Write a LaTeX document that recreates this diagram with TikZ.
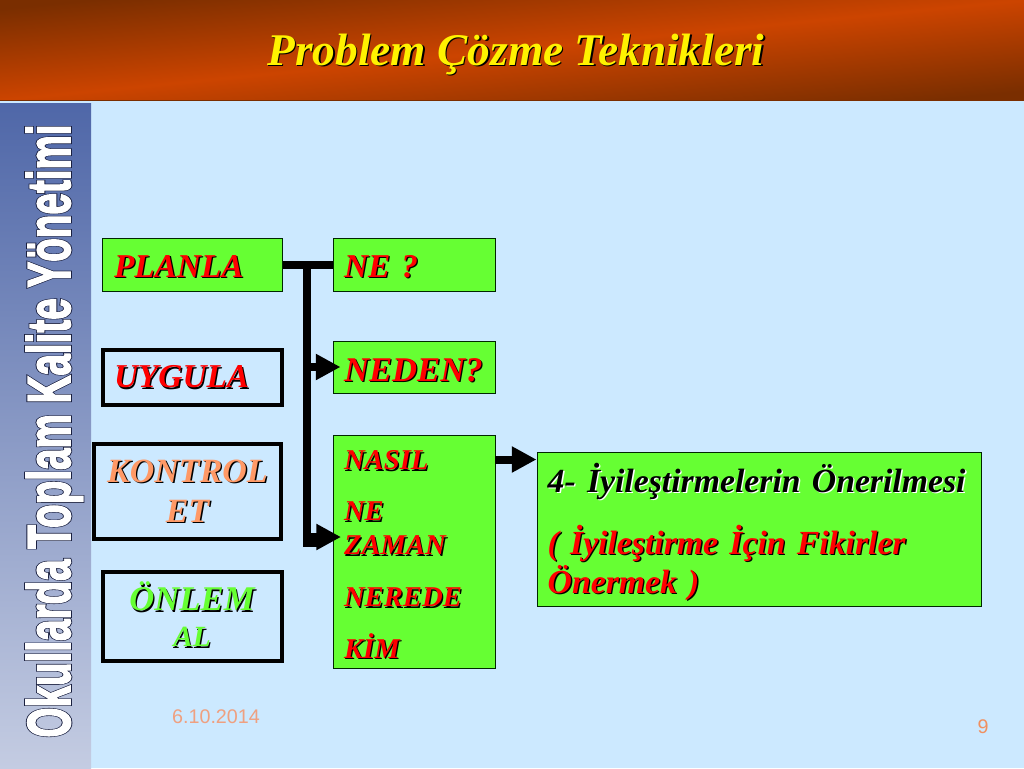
\documentclass[tikz,border=0pt]{standalone}
\usepackage{fontspec}
\usepackage{graphicx}
\usepackage{xcolor}
\usetikzlibrary{positioning, arrows.meta}
\setmainfont{Liberation Serif}
\newfontfamily\arialfont{Liberation Sans}
\definecolor{slideblue}{HTML}{CCE9FF}
\definecolor{boxgreen}{HTML}{66FF33}
\definecolor{headdark}{HTML}{7A2E00}
\definecolor{headorange}{HTML}{CC4400}
\definecolor{sidetop}{HTML}{4F67A8}
\definecolor{sidebottom}{HTML}{C4CCE2}
\definecolor{salmon}{HTML}{FF9966}
\definecolor{datecol}{HTML}{EFA080}
\definecolor{pagecol}{HTML}{F09060}
\definecolor{sideline}{HTML}{1A2040}
% text with a small drop shadow behind it
\newcommand{\shad}[3][black]{\makebox[0pt][l]{\kern 1pt\raisebox{-1pt}{\textcolor{#1}{#3}}}\textcolor{#2}{#3}}
% white letters on a dark outline
\newcommand{\outlined}[1]{\makebox[0pt][l]{\color{sideline}\special{pdf:code 2 Tr 0.6 w}#1\special{pdf:code 0 Tr}}\color{white}\special{pdf:code 2 Tr 0.3 w}#1\special{pdf:code 0 Tr}}
\tikzset{
    greenbox/.style={draw=black!85!green, line width=0.75pt, fill=boxgreen, inner sep=0pt, font=\bfseries\itshape},
    framebox/.style={draw=black, line width=3pt, inner sep=0pt, align=center, font=\bfseries\itshape},
    branch/.style={draw=black, line width=6pt},
    branchtip/.style={draw=black, line width=6pt, -{Triangle[length=18.5pt, width=18.5pt]}}
}
\begin{document}
\begin{tikzpicture}[x=0.75pt, y=-0.75pt]
    \useasboundingbox (0, 0) rectangle (1024, 768);
    \fill[slideblue] (0, 0) rectangle (1024, 768);
    \shade[top color=headdark, bottom color=headdark, middle color=headorange, shading angle=5.58] (0, 0) rectangle (1024, 100);
    \draw[headdark, line width=0.75pt] (0, 100) -- (1024, 100);
    \shade[top color=sidetop, bottom color=sidebottom] (0, 103) rectangle (91, 768);

    \node[anchor=base, inner sep=0pt, font=\fontsize{34}{38}\selectfont\bfseries\itshape] (title) at (516, 65) {\shad{yellow}{Problem Çözme Teknikleri}};
    \node[rotate=90, anchor=base, inner sep=0pt] (sidetitle) at (70, 431) {\resizebox{459.75pt}{33pt}{\arialfont\bfseries\outlined{Okullarda Toplam Kalite Yönetimi}}};

    \node[greenbox, minimum width=135pt, minimum height=39.75pt, text width=117pt, align=left, font=\fontsize{25}{28}\selectfont\bfseries\itshape] (planla) at (192, 264.5) {\raisebox{-9.4pt}[0pt][0pt]{\shad{red}{PLANLA}}};
    \node[framebox, minimum width=134.25pt, minimum height=41.25pt, text width=117pt, align=left, font=\fontsize{25}{28}\selectfont\bfseries\itshape] (uygula) at (192, 377.5) {\shad{red}{UYGULA}};
    \node[framebox, minimum width=140.25pt, minimum height=71.25pt, font=\fontsize{25.5}{30}\selectfont\bfseries\itshape] (kontrol) at (187.5, 491.5) {\shad{salmon}{KONTROL}\\\shad{salmon}{ET}};
    \node[framebox, minimum width=134.25pt, minimum height=66.75pt, font=\fontsize{26}{30}\selectfont\bfseries\itshape] (onlem) at (192, 616.5) {\shad{boxgreen}{ÖNLEM}\\[-3pt]{\fontsize{22}{26}\selectfont\shad{boxgreen}{AL}\rule[-3pt]{0pt}{0pt}}};

    \node[greenbox, minimum width=121.5pt, minimum height=39.75pt, text width=105pt, align=left, font=\fontsize{25}{28}\selectfont\bfseries\itshape] (ne) at (414, 264.5) {\raisebox{-9.4pt}[0pt][0pt]{\shad{red}{NE ?}}};
    \node[greenbox, minimum width=121.5pt, minimum height=39pt, text width=105pt, align=left, font=\fontsize{26}{28}\selectfont\bfseries\itshape] (neden) at (414, 367) {\raisebox{-10.5pt}[0pt][0pt]{\shad{red}{NEDEN?}}};
    \node[greenbox, minimum width=121.5pt, minimum height=174.75pt, text width=105pt, align=left, font=\fontsize{21.5}{25.5}\selectfont\bfseries\itshape] (nasil) at (414, 551.5) {\rule{0pt}{19.5pt}\shad{red}{NASIL}\\[12.75pt]\shad{red}{NE}\\\shad{red}{ZAMAN}\\[13.5pt]\shad{red}{NEREDE}\\[13pt]\shad{red}{KİM}};
    \node[greenbox, minimum width=333pt, minimum height=115.5pt, text width=317pt, align=left, font=\fontsize{25.3}{29.25}\selectfont\bfseries\itshape] (oneri) at (759, 529) {\rule{0pt}{27pt}\shad[white]{black}{4- İyileştirmelerin Önerilmesi}\\[17.5pt]\shad{red}{( İyileştirme İçin Fikirler}\\\shad{red}{Önermek )}};

    \node[font=\fontsize{14.8}{16}\selectfont\arialfont, text=datecol] (date) at (216, 717) {6.10.2014};
    \node[font=\fontsize{14.8}{16}\selectfont\arialfont, text=pagecol] (pagenum) at (983, 727) {9};

    \coordinate (trunktop) at (307, 264.5);
    \coordinate (trunkelbow) at (318, 543);
    \coordinate (nasilin) at (333, 537);
    \coordinate (nasilout) at (495, 459.5);

    \draw[branch] (planla) -- (ne);
    \draw[branch] (trunktop) |- (trunkelbow);
    \draw[branchtip, shorten >=-6pt] (trunktop |- neden.west) -- (neden.west);
    \draw[branchtip, shorten >=-6pt] (trunktop |- nasilin) -- (nasilin);
    \draw[branchtip] (nasilout) -- (oneri.west |- nasilout);
\end{tikzpicture}
\end{document}
